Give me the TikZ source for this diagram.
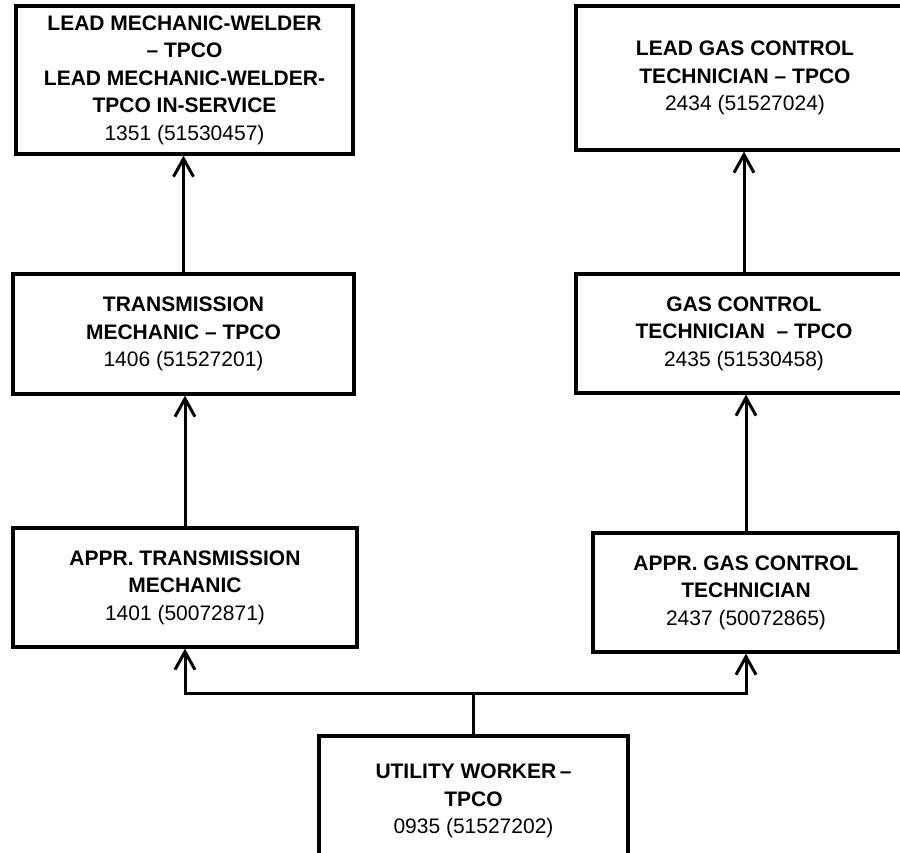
\documentclass[tikz,border=0pt]{standalone}
\usepackage{fontspec}
\setmainfont{Liberation Sans}
\usetikzlibrary{arrows.meta}

\tikzset{
  post/.style={draw,line width=1.6pt,align=center,inner sep=0pt,
    font=\fontsize{10.5}{13.75}\selectfont\bfseries},
  up/.style={line width=1.5pt,-{Straight Barb[length=9pt,width=10pt,line width=1.5pt]}}
}

\begin{document}
\begin{tikzpicture}[x=0.5pt,y=-0.5pt]
\useasboundingbox (0,0) rectangle (900,852);
\clip (0,0) rectangle (900,852);

% left column
\node [post,minimum width=168.5pt,minimum height=74pt] (lead) at (184.5,80)
{
LEAD MECHANIC-WELDER\\-- TPCO\\LEAD MECHANIC-WELDER-\\TPCO IN-SERVICE\\
\mdseries 1351 (51530457)
};
\node [post,minimum width=170.5pt,minimum height=60pt] (trans) at (183.5,334)
{
TRANSMISSION\\MECHANIC -- TPCO\\
\mdseries 1406 (51527201)
};
\node [post,minimum width=172pt,minimum height=59.5pt] (apprtrans) at (185,587.5)
{
APPR. TRANSMISSION\\MECHANIC\\
\mdseries 1401 (50072871)
};

% right column
\node [post,minimum width=169pt,minimum height=72pt] (leadgas) at (745,78)
{
LEAD GAS CONTROL\\TECHNICIAN -- TPCO\\
\mdseries 2434 (51527024)
};
\node [post,minimum width=168pt,minimum height=59.5pt] (gas) at (744,333.5)
{
GAS CONTROL\\TECHNICIAN \ -- TPCO\\
\mdseries 2435 (51530458)
};
\node [post,minimum width=153pt,minimum height=59.5pt] (apprgas) at (746,592.5)
{
APPR. GAS CONTROL\\TECHNICIAN\\
\mdseries 2437 (50072865)
};

% entry
\node [post,minimum width=154.5pt,minimum height=65pt] (utility) at (473.5,801)
{
UTILITY WORKER\,--\\TPCO\\
\mdseries 0935 (51527202)
};
\coordinate (split) at (473.5,693);

% promotions
\draw [up] (trans.north) -- (trans.north |- lead.south);
\draw [up] (apprtrans.north) -- (apprtrans.north |- trans.south);
\draw [up] (gas.north) -- (gas.north |- leadgas.south);
\draw [up] (apprgas.north) -- (apprgas.north |- gas.south);
\draw [line width=1.5pt] (utility.north) -- (split);
\draw [up] (split) -| (apprtrans.south);
\draw [up] (split) -| (apprgas.south);
\end{tikzpicture}
\end{document}
